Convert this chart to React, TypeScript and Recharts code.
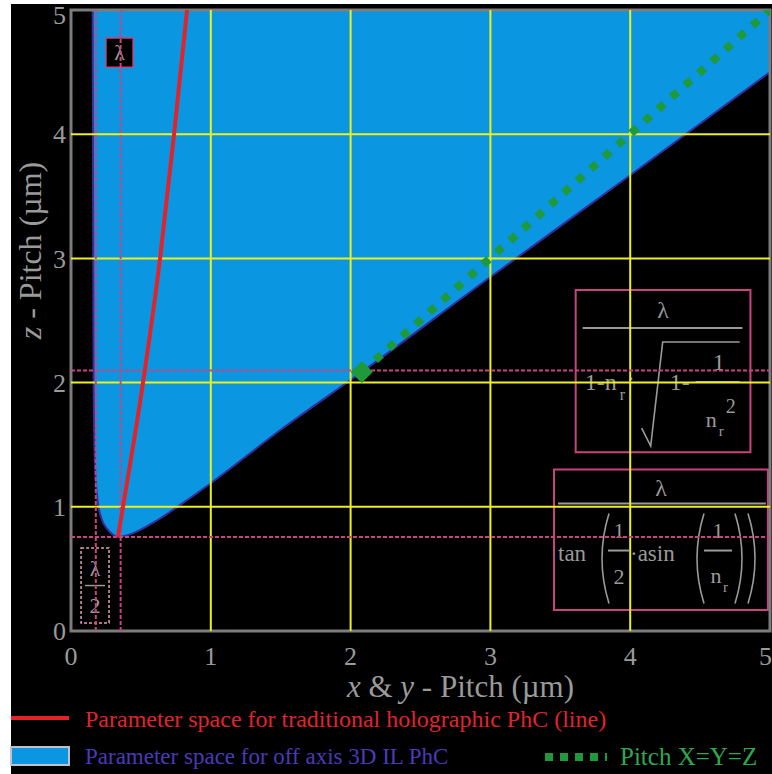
import React from 'react';
import {
  Area,
  ComposedChart,
  Line,
  ReferenceArea,
  ReferenceLine,
  XAxis,
  YAxis,
} from 'recharts';

// Lower edge of the off-axis parameter space (x & y pitch -> z pitch, µm)
const edgeX = [0.155, 0.158, 0.162, 0.17, 0.19, 0.22, 0.26, 0.3, 0.336, 0.45, 0.6, 0.8, 1.0, 1.5, 2.08, 3, 4, 5];
const edgeZ = [5, 3.5, 2, 1.4, 1.05, 0.9, 0.82, 0.775, 0.757, 0.79, 0.88, 1.03, 1.19, 1.62, 2.085, 2.85, 3.67, 4.5];
const regionTop = 5;

// Traditional holographic PhC line
const holoX = [0.336, 0.372, 0.515, 0.637, 0.737, 0.83];
const holoZ = [0.757, 1, 2, 3, 4, 5];

// Pitch X = Y = Z
const equalX = [2.08, 5];
const equalZ = [2.085, 5];

const axisTicks = [0, 1, 2, 3, 4, 5];
const gridTicks = [1, 2, 3, 4];

// λ/2 and λ, then the two z limits
const limitX = [0.1775, 0.355];
const limitZ = [0.757, 2.097];

const regionData = edgeX.map((x, i) => ({ x, band: [edgeZ[i], regionTop] }));
const holoData = holoX.map((x, i) => ({ x, z: holoZ[i] }));
const equalData = equalX.map((x, i) => ({ x, z: equalZ[i] }));

const BLUE = '#0a96e0';
const EDGE = '#3b2c9e';
const YELLOW = '#eef01e';
const MAGENTA = '#c8447e';
const RED = '#e2242a';
const GREEN = '#1e9a3c';
const GRAY = '#9a9a9a';
const FRAME = '#7c7c7c';
const SERIF = '"Liberation Serif", "DejaVu Serif", serif';

const Paren = ({ x, top, bottom, right }: any) => {
  const mid = (top + bottom) / 2;
  const bend = right ? 14 : -14;
  return (
    <path
      d={`M ${x} ${top} Q ${x + bend} ${mid} ${x} ${bottom}`}
      fill="none"
      stroke={GRAY}
      strokeWidth={1.6}
    />
  );
};

// λ / (1 - n_r·sqrt(1 - 1/n_r²))
const SqrtFormula = ({ viewBox }: any) => {
  const { x, y, width } = viewBox;
  return (
    <g fill={GRAY} fontFamily={SERIF}>
      <text x={x + width / 2} y={y + 28} textAnchor="middle" fontSize={24}>λ</text>
      <line x1={x + 7} x2={x + width - 8} y1={y + 38} y2={y + 38} stroke={GRAY} strokeWidth={2} />
      <text x={x + 9} y={y + 100} fontSize={24}>1-n</text>
      <text x={x + 44} y={y + 110} fontSize={16}>r</text>
      <text x={x + 52} y={y + 96} fontSize={20}>·</text>
      <path
        d={`M ${x + 66} ${y + 138} L ${x + 75} ${y + 156} L ${x + 87} ${y + 52} L ${x + 164} ${y + 52}`}
        fill="none"
        stroke={GRAY}
        strokeWidth={1.6}
      />
      <text x={x + 94} y={y + 100} fontSize={24}>1-</text>
      <text x={x + 143} y={y + 80} textAnchor="middle" fontSize={24}>1</text>
      <line x1={x + 120} x2={x + 164} y1={y + 92} y2={y + 92} stroke={GRAY} strokeWidth={2} />
      <text x={x + 150} y={y + 123} fontSize={20}>2</text>
      <text x={x + 130} y={y + 137} fontSize={22}>n</text>
      <text x={x + 143} y={y + 146} fontSize={15}>r</text>
    </g>
  );
};

// λ / tan(½·asin(1/n_r))
const TanFormula = ({ viewBox }: any) => {
  const { x, y, width } = viewBox;
  return (
    <g fill={GRAY} fontFamily={SERIF}>
      <text x={x + width / 2} y={y + 26} textAnchor="middle" fontSize={24}>λ</text>
      <line x1={x + 4} x2={x + width - 2} y1={y + 34} y2={y + 34} stroke={GRAY} strokeWidth={2} />
      <text x={x + 4} y={y + 91} fontSize={23}>tan</text>
      <Paren x={x + 55} top={y + 44} bottom={y + 134} />
      <text x={x + 65} y={y + 68} textAnchor="middle" fontSize={22}>1</text>
      <line x1={x + 54} x2={x + 75} y1={y + 81} y2={y + 81} stroke={GRAY} strokeWidth={2} />
      <text x={x + 65} y={y + 114} textAnchor="middle" fontSize={22}>2</text>
      <text x={x + 76} y={y + 91} fontSize={23}>·asin</text>
      <Paren x={x + 150} top={y + 44} bottom={y + 134} />
      <text x={x + 164} y={y + 68} textAnchor="middle" fontSize={22}>1</text>
      <line x1={x + 150} x2={x + 178} y1={y + 81} y2={y + 81} stroke={GRAY} strokeWidth={2} />
      <text x={x + 162} y={y + 113} textAnchor="middle" fontSize={22}>n</text>
      <text x={x + 169} y={y + 122} fontSize={15}>r</text>
      <Paren x={x + 181} top={y + 44} bottom={y + 134} right />
      <Paren x={x + 194} top={y + 44} bottom={y + 134} right />
    </g>
  );
};

const LambdaBox = ({ viewBox }: any) => {
  const { x, y, width, height } = viewBox;
  return (
    <text x={x + width / 2} y={y + height / 2} dy="0.35em" textAnchor="middle" fill={GRAY} fontFamily={SERIF} fontSize={22}>
      λ
    </text>
  );
};

const HalfLambdaBox = ({ viewBox }: any) => {
  const { x, y, width, height } = viewBox;
  const cx = x + width / 2;
  return (
    <g fill={GRAY} fontFamily={SERIF} fontSize={22}>
      <text x={cx} y={y + 28} textAnchor="middle">λ</text>
      <line x1={x + 4} x2={x + width - 4} y1={y + height / 2} y2={y + height / 2} stroke={GRAY} strokeWidth={1.5} />
      <text x={cx} y={y + height - 10} textAnchor="middle">2</text>
    </g>
  );
};

const DiamondDot = (props: any) => {
  const { cx, cy, index } = props;
  if (index !== 0) return <g key={`d-${index}`} />;
  const r = 11;
  return (
    <polygon
      key={`d-${index}`}
      points={`${cx},${cy - r} ${cx + r},${cy} ${cx},${cy + r} ${cx - r},${cy}`}
      fill={GREEN}
    />
  );
};

const XTitle = ({ viewBox }: any) => {
  const { x, y, width } = viewBox;
  return (
    <text x={x + width / 2 + 40} y={y + 66} textAnchor="middle" fill={GRAY} fontFamily={SERIF} fontSize={31}>
      <tspan fontStyle="italic">x</tspan> &amp; <tspan fontStyle="italic">y</tspan> - Pitch (µm)
    </text>
  );
};

const YTitle = ({ viewBox }: any) => {
  const { y, height } = viewBox;
  const cx = 30;
  const cy = y + height / 2 - 70;
  return (
    <text x={cx} y={cy} transform={`rotate(-90 ${cx} ${cy})`} textAnchor="middle" dy="0.35em" fill={GRAY} fontFamily={SERIF} fontSize={32}>
      <tspan fontStyle="italic">z</tspan> - Pitch (µm)
    </text>
  );
};

const tickStyle = { fill: GRAY, fontSize: 26, fontFamily: SERIF };

const legendText = { position: 'absolute' as const, whiteSpace: 'nowrap' as const, lineHeight: '24px' };

export default function App() {
  return (
    <div style={{ position: 'fixed', top: 0, left: 0, width: 772, height: 774, background: '#fff', fontFamily: SERIF }}>
      <div style={{ position: 'absolute', left: 11, top: 4, right: 0, bottom: 0, background: '#000' }} />
      <div style={{ position: 'absolute', left: 0, top: 0 }}>
        <ComposedChart width={772} height={774} margin={{ top: 10, right: 2, bottom: 68, left: 0 }}>
          <XAxis
            type="number"
            dataKey="x"
            domain={[0, 5]}
            ticks={axisTicks}
            allowDataOverflow
            tick={tickStyle}
            tickSize={0}
            tickMargin={16}
            axisLine={false}
            height={75}
            label={(p: any) => <XTitle viewBox={p.viewBox} />}
          />
          <YAxis
            type="number"
            domain={[0, 5]}
            ticks={axisTicks}
            allowDataOverflow
            tick={tickStyle}
            tickSize={0}
            tickMargin={5}
            axisLine={false}
            width={71}
            label={(p: any) => <YTitle viewBox={p.viewBox} />}
          />
          <Area
            data={regionData}
            dataKey="band"
            type="monotone"
            fill={BLUE}
            fillOpacity={1}
            stroke={EDGE}
            strokeWidth={2}
            isAnimationActive={false}
          />
          {gridTicks.map((v) => (
            <ReferenceLine key={`gx-${v}`} x={v} stroke={YELLOW} strokeWidth={2} />
          ))}
          {gridTicks.map((v) => (
            <ReferenceLine key={`gy-${v}`} y={v} stroke={YELLOW} strokeWidth={2} />
          ))}
          {limitX.map((v) => (
            <ReferenceLine key={`lx-${v}`} x={v} stroke={MAGENTA} strokeWidth={2} strokeDasharray="4 2" />
          ))}
          {limitZ.map((v) => (
            <ReferenceLine key={`lz-${v}`} y={v} stroke={MAGENTA} strokeWidth={2} strokeDasharray="4 2" />
          ))}
          <Line
            data={holoData}
            dataKey="z"
            type="monotone"
            stroke={RED}
            strokeWidth={4}
            dot={false}
            isAnimationActive={false}
          />
          <Line
            data={equalData}
            dataKey="z"
            type="linear"
            stroke={GREEN}
            strokeWidth={8}
            strokeDasharray="8 10"
            dot={DiamondDot}
            isAnimationActive={false}
          />
          <ReferenceArea
            x1={0.25}
            x2={0.444}
            y1={4.54}
            y2={4.775}
            fill="#000"
            fillOpacity={1}
            stroke={MAGENTA}
            strokeWidth={1.5}
            label={(p: any) => <LambdaBox viewBox={p.viewBox} />}
          />
          <ReferenceArea
            x1={0.072}
            x2={0.272}
            y1={0.064}
            y2={0.668}
            fill="#000"
            fillOpacity={1}
            stroke="#e0a0b8"
            strokeWidth={1.5}
            strokeDasharray="3 2"
            label={(p: any) => <HalfLambdaBox viewBox={p.viewBox} />}
          />
          <ReferenceArea
            x1={3.61}
            x2={4.86}
            y1={1.44}
            y2={2.745}
            fill="#000"
            fillOpacity={1}
            stroke={MAGENTA}
            strokeWidth={2}
            label={(p: any) => <SqrtFormula viewBox={p.viewBox} />}
          />
          <ReferenceArea
            x1={3.455}
            x2={4.985}
            y1={0.17}
            y2={1.3}
            fill="#000"
            fillOpacity={1}
            stroke={MAGENTA}
            strokeWidth={2}
            label={(p: any) => <TanFormula viewBox={p.viewBox} />}
          />
          <ReferenceArea
            x1={0}
            x2={5}
            y1={0}
            y2={5}
            fill="none"
            stroke={FRAME}
            strokeWidth={3}
          />
        </ComposedChart>
      </div>

      {/* legend */}
      <div style={{ position: 'absolute', left: 0, top: 0 }}>
        <svg width={60} height={10} style={{ position: 'absolute', left: 11, top: 713 }}>
          <line x1={0} x2={58} y1={5} y2={5} stroke={RED} strokeWidth={4} />
        </svg>
        <div style={{ ...legendText, left: 85, top: 707, color: RED, fontSize: 24 }}>
          Parameter space for traditional holographic PhC (line)
        </div>
        <svg width={62} height={22} style={{ position: 'absolute', left: 10, top: 746 }}>
          <rect x={1} y={1} width={58} height={18} fill={BLUE} stroke="#c0c0d0" strokeWidth={2} />
        </svg>
        <div style={{ ...legendText, left: 85, top: 745, color: '#4a3ab8', fontSize: 23 }}>
          Parameter space for off axis 3D IL PhC
        </div>
        <svg width={70} height={12} style={{ position: 'absolute', left: 545, top: 751 }}>
          <line x1={0} x2={62} y1={6} y2={6} stroke={GREEN} strokeWidth={8} strokeDasharray="8 7" />
        </svg>
        <div style={{ ...legendText, left: 620, top: 745, color: '#2fa84e', fontSize: 25 }}>
          Pitch X=Y=Z
        </div>
      </div>
    </div>
  );
}
